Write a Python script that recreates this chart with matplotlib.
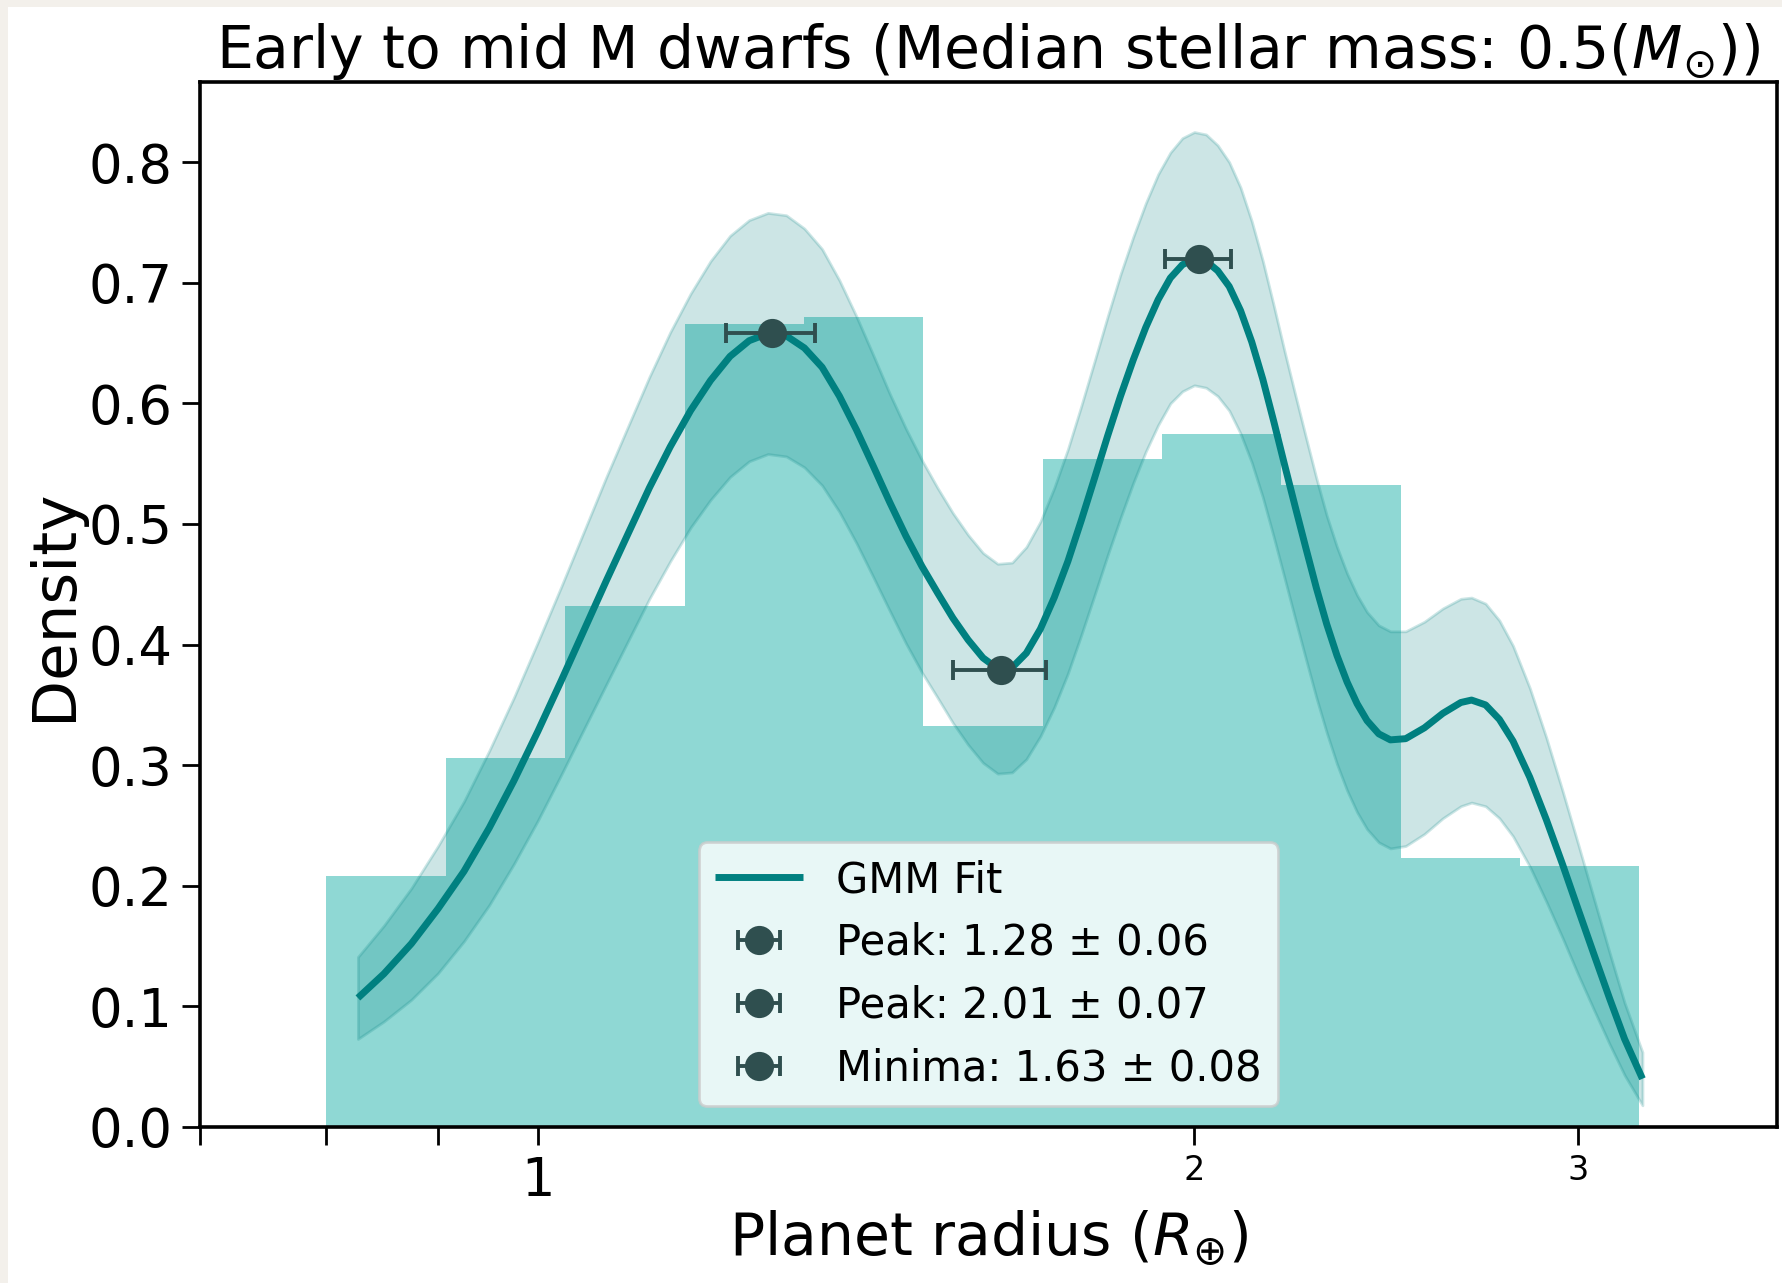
import numpy as np
import matplotlib
matplotlib.use("Agg")
import matplotlib.pyplot as plt
from matplotlib.patches import Rectangle
from matplotlib.ticker import LogFormatter

# Planet-radius sample: counts in 11 log-spaced bins between 0.8 and 3.2 R_earth
bin_edges = np.geomspace(0.8, 3.2, 12)
bin_counts = [3, 5, 8, 14, 16, 9, 17, 20, 21, 10, 11]

# GMM fit evaluated on a radius grid, with its confidence band
radius = [0.827, 0.85, 0.875, 0.90, 0.925, 0.95, 0.975, 1.00, 1.025, 1.05,
          1.075, 1.10, 1.125, 1.15, 1.175, 1.20, 1.225, 1.25, 1.275, 1.30,
          1.325, 1.35, 1.375, 1.40, 1.425, 1.45, 1.475, 1.50, 1.525, 1.55,
          1.575, 1.60, 1.625, 1.65, 1.675, 1.70, 1.725, 1.75, 1.775, 1.80,
          1.825, 1.85, 1.875, 1.90, 1.925, 1.95, 1.975, 2.00, 2.025, 2.05,
          2.075, 2.10, 2.125, 2.15, 2.175, 2.20, 2.225, 2.25, 2.275, 2.30,
          2.325, 2.35, 2.375, 2.40, 2.43, 2.46, 2.50, 2.55, 2.60, 2.65,
          2.68, 2.72, 2.76, 2.80, 2.85, 2.90, 2.95, 3.00, 3.05, 3.10,
          3.15, 3.21]
gmm_density = [0.107, 0.127, 0.152, 0.181, 0.212, 0.248, 0.287, 0.328, 0.370, 0.412,
               0.453, 0.492, 0.530, 0.564, 0.594, 0.619, 0.639, 0.652, 0.658, 0.656,
               0.646, 0.630, 0.606, 0.578, 0.548, 0.518, 0.490, 0.465, 0.443, 0.422,
               0.404, 0.389, 0.380, 0.381, 0.393, 0.413, 0.439, 0.469, 0.503, 0.538,
               0.573, 0.606, 0.636, 0.663, 0.686, 0.704, 0.715, 0.720, 0.718, 0.710,
               0.697, 0.677, 0.651, 0.620, 0.585, 0.549, 0.514, 0.480, 0.447, 0.417,
               0.391, 0.369, 0.351, 0.337, 0.326, 0.321, 0.322, 0.331, 0.343, 0.352,
               0.354, 0.350, 0.338, 0.320, 0.290, 0.255, 0.218, 0.180, 0.143, 0.107,
               0.073, 0.040]
gmm_lower = [0.073, 0.0875, 0.1055, 0.1275, 0.154, 0.184, 0.218, 0.254, 0.292, 0.330,
             0.367, 0.403, 0.438, 0.469, 0.497, 0.520, 0.539, 0.552, 0.558, 0.556,
             0.547, 0.532, 0.510, 0.484, 0.456, 0.428, 0.401, 0.377, 0.356, 0.335,
             0.317, 0.302, 0.293, 0.294, 0.305, 0.324, 0.348, 0.376, 0.408, 0.441,
             0.474, 0.505, 0.534, 0.560, 0.582, 0.600, 0.610, 0.615, 0.613, 0.606,
             0.594, 0.575, 0.551, 0.522, 0.489, 0.455, 0.421, 0.388, 0.356, 0.327,
             0.301, 0.279, 0.261, 0.247, 0.236, 0.231, 0.233, 0.243, 0.256, 0.266,
             0.269, 0.266, 0.256, 0.241, 0.216, 0.187, 0.157, 0.126, 0.097, 0.069,
             0.043, 0.018]
gmm_upper = [0.141, 0.167, 0.198, 0.233, 0.270, 0.312, 0.356, 0.402, 0.448, 0.494,
             0.539, 0.581, 0.622, 0.659, 0.691, 0.718, 0.739, 0.752, 0.758, 0.756,
             0.745, 0.728, 0.702, 0.672, 0.640, 0.608, 0.579, 0.553, 0.530, 0.509,
             0.491, 0.476, 0.467, 0.468, 0.481, 0.502, 0.530, 0.562, 0.598, 0.635,
             0.672, 0.707, 0.738, 0.766, 0.790, 0.808, 0.820, 0.825, 0.823, 0.814,
             0.800, 0.779, 0.751, 0.718, 0.681, 0.643, 0.607, 0.572, 0.538, 0.507,
             0.481, 0.459, 0.441, 0.427, 0.416, 0.411, 0.411, 0.419, 0.430, 0.438,
             0.439, 0.434, 0.420, 0.399, 0.364, 0.323, 0.279, 0.234, 0.189, 0.145,
             0.103, 0.062]

# Located extrema of the fit (radius +/- uncertainty, density at that radius)
extrema_kind = ["Peak", "Peak", "Minima"]
extrema_radius = [1.28, 2.01, 1.63]
extrema_error = [0.06, 0.07, 0.08]
extrema_density = [0.658, 0.720, 0.379]

W, H = 1783, 1283
fig = plt.figure(figsize=(W / 200, H / 200), dpi=200, facecolor="#f3f0eb")
fig.patches.append(Rectangle((8 / W, 0), 1 - 8 / W, 1 - 7 / H,
                             transform=fig.transFigure, facecolor="white",
                             edgecolor="none", zorder=-10))

ax = fig.add_axes([200 / W, 1 - 1127 / H, (1777 - 200) / W, (1127 - 82) / H])
ax.set_xscale("log")

bin_centres = np.sqrt(bin_edges[:-1] * bin_edges[1:])
ax.hist(bin_centres, bins=bin_edges, weights=bin_counts, density=True,
        color="lightseagreen", alpha=0.5, zorder=1)

ax.fill_between(radius, gmm_lower, gmm_upper, color="teal", alpha=0.2, zorder=2)
ax.plot(radius, gmm_density, color="teal", lw=2.5, label="GMM Fit", zorder=3,
        solid_joinstyle="round", solid_capstyle="butt")

for kind, r, err, d in zip(extrema_kind, extrema_radius, extrema_error, extrema_density):
    ax.errorbar(r, d, xerr=err, fmt="o", color="darkslategray", markersize=9.5,
                capsize=3.5, elinewidth=1.4, capthick=1.4, zorder=4,
                label=f"{kind}: {r:.2f} \u00b1 {err:.2f}")

ax.set_xlim(0.7, 3.7)
ax.set_ylim(0, 0.8665)

ax.xaxis.set_major_formatter(LogFormatter())
ax.xaxis.set_minor_formatter(LogFormatter(labelOnlyBase=False))

ax.set_title("Early to mid M dwarfs (Median stellar mass: 0.5$(M_{\\odot})$)",
             fontsize=21, pad=3.5)
ax.set_xlabel("Planet radius ($R_{\\oplus}$)", fontsize=21, labelpad=0.5)
ax.set_ylabel("Density", fontsize=22, labelpad=1.5)

ax.tick_params(axis="both", which="both", length=6.5, width=1.0, direction="out")
ax.tick_params(axis="both", which="major", labelsize=19)
ax.tick_params(axis="x", which="minor", labelsize=12)
for s in ax.spines.values():
    s.set_linewidth(1.3)

ax.legend(loc="lower center", fontsize=15, handlelength=2.1, labelspacing=0.5)

fig.savefig("out.png", dpi=200, facecolor=fig.get_facecolor())
